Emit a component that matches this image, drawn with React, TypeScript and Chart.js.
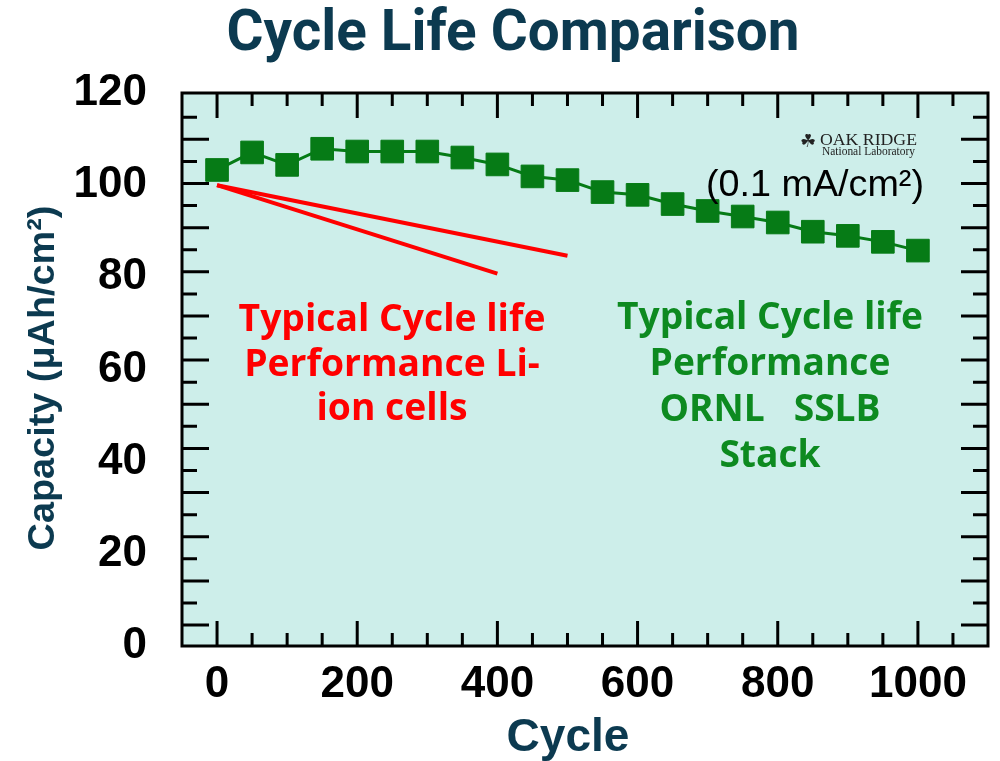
import React, { useEffect, useRef } from "react";
import { Chart, registerables } from "chart.js";

Chart.register(...registerables);

// ---------- data ----------
const cycles = [0, 50, 100, 150, 200, 250, 300, 350, 400, 450, 500, 550, 600, 650, 700, 750, 800, 850, 900, 950, 1000];
const ornlCapacity = [103.3, 107.1, 104.4, 107.9, 107.3, 107.3, 107.3, 106.0, 104.5, 101.9, 101.1, 98.5, 97.9, 95.9, 94.4, 93.2, 91.9, 89.9, 89.0, 87.7, 85.8];
const liIonSlowCycles = [0, 500];
const liIonSlowCapacity = [100, 84.7];
const liIonFastCycles = [0, 400];
const liIonFastCapacity = [100, 80.8];
const xTickLabels = [0, 200, 400, 600, 800, 1000];
const yTickLabels = [0, 20, 40, 60, 80, 100, 120];
const xMinorStep = 50;
const xMajorStep = 200;
const frameMarkIndex = [1, 2, 3, 4, 5, 6, 7, 8, 9, 10, 11, 12, 13, 14, 15, 16, 17, 18, 19, 20, 21, 22, 23, 24];

const titleText = "Cycle Life Comparison";
const xTitle = "Cycle";
const yTitle = "Capacity (μAh/cm²)";
const redNote = ["Typical Cycle life", "Performance Li-", "ion cells"];
const greenNote = ["Typical Cycle life", "Performance", "ORNL   SSLB", "Stack"];
const rateNote = "(0.1 mA/cm²)";
const logoIcon = "☘";
const logoName = "OAK RIDGE";
const logoSub = "National Laboratory";

// ---------- styles ----------
const NAVY = "#0c3a50";
const GREEN = "#067b16";
const GREEN_TEXT = "#0d8a20";
const RED = "#ff0000";
const PANEL = "#cdeeea";
const ARIAL = '"Liberation Sans", Arial, sans-serif';

function fitSize(ctx: CanvasRenderingContext2D, text: string, weight: string, family: string, width: number) {
  ctx.font = `${weight} 100px ${family}`;
  return (100 * width) / ctx.measureText(text).width;
}

const decorPlugin = {
  id: "decor",
  beforeDraw(chart: any) {
    const { ctx, chartArea: a, width, height } = chart;
    ctx.save();
    ctx.fillStyle = "#ffffff";
    ctx.fillRect(0, 0, width, height);
    ctx.fillStyle = PANEL;
    ctx.fillRect(a.left, a.top, a.right - a.left, a.bottom - a.top);
    ctx.restore();
  },
  afterDraw(chart: any) {
    const { ctx, chartArea: a, scales } = chart;
    const xs = scales.x;
    const ym = scales.yMarks;
    ctx.save();
    ctx.strokeStyle = "#000";
    ctx.lineWidth = 3;
    ctx.lineCap = "butt";
    ctx.beginPath();
    for (let v = 0; v < xs.max; v += xMinorStep) {
      const px = xs.getPixelForValue(v);
      if (px <= a.left + 2 || px >= a.right - 2) continue;
      const len = v % xMajorStep === 0 ? 25 : 13;
      ctx.moveTo(px, a.bottom);
      ctx.lineTo(px, a.bottom - len);
      ctx.moveTo(px, a.top);
      ctx.lineTo(px, a.top + len);
    }
    for (const i of frameMarkIndex) {
      const py = ym.getPixelForValue(i);
      const len = i % 2 === 1 ? 27 : 15;
      ctx.moveTo(a.left, py);
      ctx.lineTo(a.left + len, py);
      ctx.moveTo(a.right, py);
      ctx.lineTo(a.right - len, py);
    }
    ctx.stroke();
    ctx.strokeRect(a.left, a.top, a.right - a.left, a.bottom - a.top);

    // title
    ctx.textAlign = "center";
    ctx.textBaseline = "alphabetic";
    let s = fitSize(ctx, titleText, "700", "Roboto", 573);
    ctx.font = `700 ${s}px Roboto`;
    ctx.fillStyle = NAVY;
    ctx.fillText(titleText, 513, 50);

    // x title
    s = fitSize(ctx, xTitle, "700", ARIAL, 123);
    ctx.font = `700 ${s}px ${ARIAL}`;
    ctx.fillText(xTitle, 568, 751);

    // y title
    ctx.save();
    ctx.translate(54, 378);
    ctx.rotate(-Math.PI / 2);
    s = fitSize(ctx, yTitle, "700", ARIAL, 345);
    ctx.font = `700 ${s}px ${ARIAL}`;
    ctx.fillText(yTitle, 0, 0);
    ctx.restore();

    // red note
    s = fitSize(ctx, redNote[0], "700", '"Open Sans"', 307);
    ctx.font = `700 ${s}px "Open Sans"`;
    ctx.fillStyle = RED;
    redNote.forEach((t, i) => ctx.fillText(t, 392, 331 + i * 44.5));

    // green note
    s = fitSize(ctx, greenNote[0], "700", '"Open Sans"', 306);
    ctx.font = `700 ${s}px "Open Sans"`;
    ctx.fillStyle = GREEN_TEXT;
    greenNote.forEach((t, i) => ctx.fillText(t, 770, 329 + i * 46));

    // rate note
    s = fitSize(ctx, rateNote, "400", ARIAL, 218);
    ctx.font = `400 ${s}px ${ARIAL}`;
    ctx.fillStyle = "#000";
    ctx.fillText(rateNote, 815, 196);

    // logo
    ctx.textAlign = "left";
    ctx.fillStyle = "#222";
    ctx.font = `18px "DejaVu Sans"`;
    ctx.fillText(logoIcon, 800, 147);
    s = fitSize(ctx, logoName, "400", '"Liberation Serif"', 97);
    ctx.font = `400 ${s}px "Liberation Serif"`;
    ctx.fillText(logoName, 820, 145);
    s = fitSize(ctx, logoSub, "400", '"Liberation Serif"', 93);
    ctx.font = `400 ${s}px "Liberation Serif"`;
    ctx.fillText(logoSub, 822, 155);
    ctx.restore();
  },
};

const tickFont = { family: ARIAL, size: 44, weight: "bold" as const };

export default function App() {
  const ref = useRef<HTMLCanvasElement>(null);
  useEffect(() => {
    const chart = new Chart(ref.current as HTMLCanvasElement, {
      type: "line",
      data: {
        datasets: [
          {
            label: "ORNL SSLB Stack",
            data: cycles.map((c, i) => ({ x: c, y: ornlCapacity[i] })),
            borderColor: GREEN,
            backgroundColor: GREEN,
            borderWidth: 3,
            pointStyle: "rect",
            pointRadius: 16,
            pointBorderWidth: 1,
            pointBorderColor: GREEN,
            pointBackgroundColor: GREEN,
            tension: 0,
            yAxisID: "y",
          },
          {
            label: "Li-ion (slow fade)",
            data: liIonSlowCycles.map((c, i) => ({ x: c, y: liIonSlowCapacity[i] })),
            borderColor: RED,
            borderWidth: 4,
            pointRadius: 0,
            yAxisID: "y",
          },
          {
            label: "Li-ion (fast fade)",
            data: liIonFastCycles.map((c, i) => ({ x: c, y: liIonFastCapacity[i] })),
            borderColor: RED,
            borderWidth: 4,
            pointRadius: 0,
            yAxisID: "y",
          },
        ],
      },
      options: {
        animation: false,
        responsive: false,
        layout: { autoPadding: false, padding: { top: 93, right: 12, left: 0, bottom: 0 } },
        plugins: {
          legend: { display: false },
          title: { display: false },
          tooltip: { enabled: false },
        },
        scales: {
          x: {
            type: "linear",
            min: -50,
            max: 1100,
            afterBuildTicks: (s: any) => {
              s.ticks = xTickLabels.map((v) => ({ value: v }));
            },
            afterFit: (s: any) => {
              s.height = 115;
              s.paddingLeft = 0;
              s.paddingRight = 0;
            },
            grid: { display: false, drawTicks: false },
            border: { display: false },
            ticks: {
              font: tickFont,
              color: "#000",
              padding: 12,
              maxRotation: 0,
              autoSkip: false,
              callback: (v: any) => String(v),
            },
          },
          y: {
            type: "linear",
            position: "left",
            min: 0,
            max: 120,
            afterBuildTicks: (s: any) => {
              s.ticks = yTickLabels.map((v) => ({ value: v }));
            },
            afterFit: (s: any) => {
              s.width = 182;
            },
            grid: { display: false, drawTicks: false },
            border: { display: false },
            ticks: { font: tickFont, color: "#000", padding: 35, autoSkip: false, callback: (v: any) => String(v) },
          },
          yMarks: {
            type: "linear",
            position: "left",
            display: false,
            min: 0.05,
            max: 25.1,
          },
        },
      },
      plugins: [decorPlugin],
    } as any);
    return () => chart.destroy();
  }, []);
  return (
    <div style={{ position: "absolute", left: 0, top: 0, width: 1000, height: 761, background: "#fff" }}>
      <canvas ref={ref} width={1000} height={761} style={{ display: "block", width: 1000, height: 761 }} />
    </div>
  );
}
